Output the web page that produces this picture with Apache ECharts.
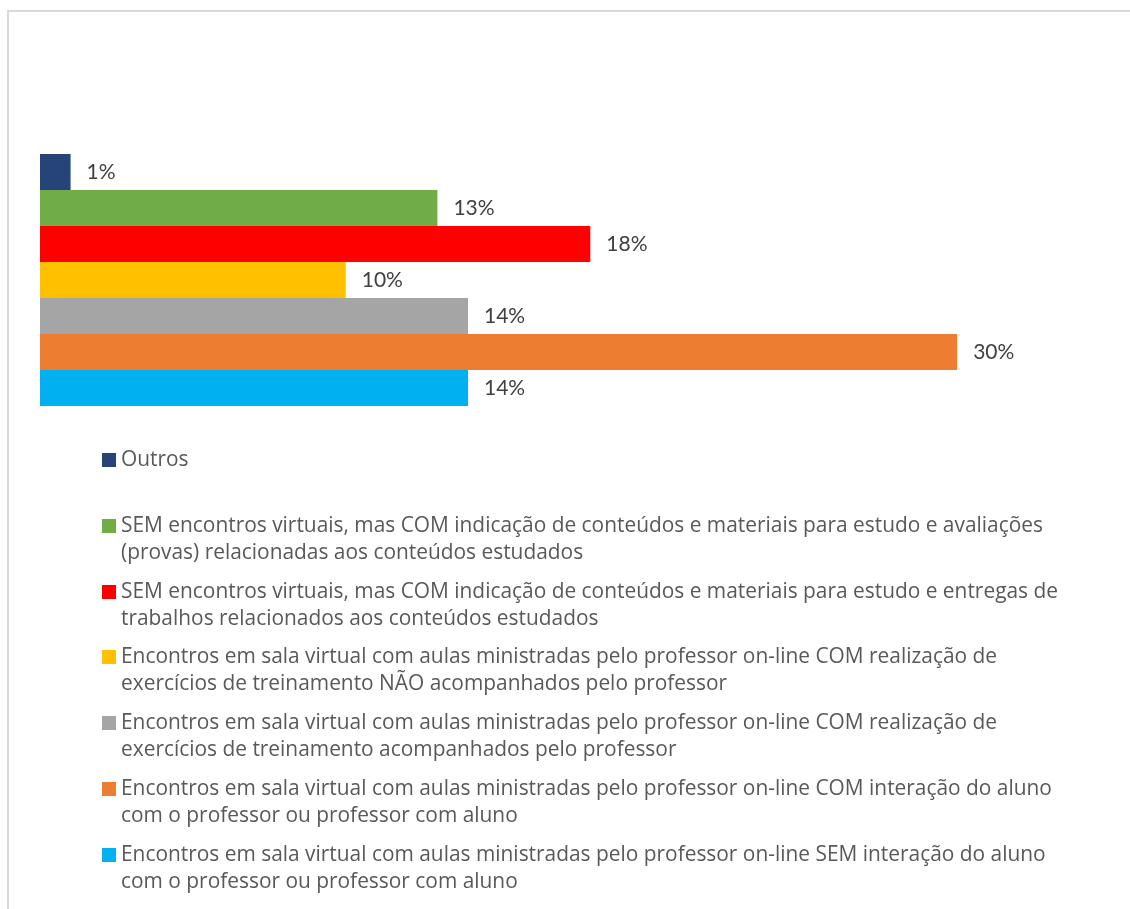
<!DOCTYPE html>
<html>
<head>
<meta charset="utf-8">
<script src="https://cdn.jsdelivr.net/npm/echarts@6/dist/echarts.min.js"></script>
<style>
  html, body { margin: 0; padding: 0; background: #fff; overflow: hidden; }
  #frame { position: absolute; left: 7px; top: 10px; width: 1200px; height: 1000px; border: 2px solid #d9d9d9; box-sizing: border-box; }
  #chart { position: absolute; left: 0; top: 0; width: 1130px; height: 909px; }
</style>
</head>
<body>
<div id="frame"></div>
<div id="chart"></div>
<script>
// ---- data ----
const categories = ['Modalidade'];
const seriesNames = [
  'Outros',
  'SEM encontros virtuais, mas COM indicação de conteúdos e materiais para estudo e avaliações\n(provas) relacionadas aos conteúdos estudados',
  'SEM encontros virtuais, mas COM indicação de conteúdos e materiais para estudo e entregas de\ntrabalhos relacionados aos conteúdos estudados',
  'Encontros em sala virtual com aulas ministradas pelo professor on-line COM realização de\nexercícios de treinamento NÃO acompanhados pelo professor',
  'Encontros em sala virtual com aulas ministradas pelo professor on-line COM realização de\nexercícios de treinamento acompanhados pelo professor',
  'Encontros em sala virtual com aulas ministradas pelo professor on-line COM interação do aluno\ncom o professor ou professor com aluno',
  'Encontros em sala virtual com aulas ministradas pelo professor on-line SEM interação do aluno\ncom o professor ou professor com aluno'
];
const seriesValues = [1, 13, 18, 10, 14, 30, 14];
const seriesColors = ['#264478', '#70AD47', '#FF0000', '#FFC000', '#A5A5A5', '#ED7D31', '#00B0F0'];

// ---- layout ----
const LABEL_FONT = 'Lato';
const LEGEND_FONT = 'Open Sans';
const LH = 27;
const legendCenters = [460, 526, 592, 657, 723, 789, 855];

// icon for two-line legend entries: 14x14 square aligned with the first text line
const twoLineIcon = 'path://M0,0L14,0L0,0Z M0,6.5L14,6.5L14,20.5L0,20.5Z M0,54L14,54L0,54Z';

const chart = echarts.init(document.getElementById('chart'), null, { renderer: 'canvas' });

const legends = seriesNames.map((name, i) => {
  const lines = name.split('\n').length;
  return {
    data: [name],
    orient: 'vertical',
    left: 102,
    top: legendCenters[i] - LH / 2,
    padding: 0,
    itemGap: 0,
    itemWidth: 14,
    itemHeight: lines === 2 ? 2 * LH : 14,
    icon: lines === 2 ? twoLineIcon : 'rect',
    symbolKeepAspect: false,
    selectedMode: false,
    textStyle: {
      fontFamily: LEGEND_FONT,
      fontSize: 20.9,
      color: '#595959',
      lineHeight: LH
    }
  };
});

const series = seriesNames.map((name, i) => ({
  name: name,
  type: 'bar',
  data: [seriesValues[i]],
  itemStyle: { color: seriesColors[i] },
  barGap: '0%',
  barCategoryGap: '0%',
  label: {
    show: true,
    position: 'right',
    distance: 16,
    formatter: '{c}%',
    fontFamily: LABEL_FONT,
    fontSize: 21,
    color: '#404040'
  },
  emphasis: { disabled: true },
  animation: false
}));

chart.setOption({
  animation: false,
  legend: legends,
  grid: { left: 40, top: 154, width: 1070, height: 252, containLabel: false },
  xAxis: { type: 'value', min: 0, max: 35, show: false },
  yAxis: { type: 'category', data: categories, show: false },
  series: series
});
</script>
</body>
</html>
